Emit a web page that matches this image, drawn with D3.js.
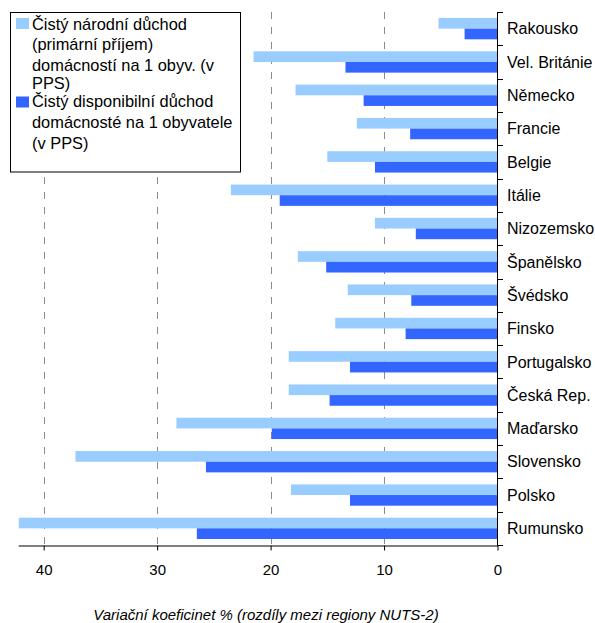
<!DOCTYPE html>
<html>
<head>
<meta charset="utf-8">
<script src="https://cdn.jsdelivr.net/npm/d3@7"></script>
<style>
  html, body { margin: 0; padding: 0; background: #fff; }
  svg { display: block; font-family: "Liberation Sans", Arial, sans-serif; }
</style>
</head>
<body>
<svg id="chart" width="595" height="623"></svg>
<script>
const categories = ["Rakousko", "Vel. Británie", "Německo", "Francie", "Belgie", "Itálie",
  "Nizozemsko", "Španělsko", "Švédsko", "Finsko", "Portugalsko", "Česká Rep.",
  "Maďarsko", "Slovensko", "Polsko", "Rumunsko"];
const seriesNames = [
  ["Čistý národní důchod", "(primární příjem)", "domácností na 1 obyv. (v", "PPS)"],
  ["Čistý disponibilní důchod", "domácnosté na 1 obyvatele", "(v PPS)"]
];
const narodni =     [5.2, 21.5, 17.8, 12.4, 15.0, 23.5, 10.8, 17.6, 13.2, 14.3, 18.4, 18.4, 28.3, 37.2, 18.2, 42.2];
const disponibilni = [2.9, 13.4, 11.8, 7.7, 10.8, 19.2, 7.2, 15.1, 7.6, 8.1, 13.0, 14.8, 19.9, 25.7, 13.0, 26.5];
const xTicks = [40, 30, 20, 10, 0];
const gridTicks = [40, 30, 20, 10];
const axisTitle = "Variační koeficinet % (rozdíly mezi regiony NUTS-2)";
const colors = ["#99CCFF", "#3366FF"];

const svg = d3.select("#chart");
const x = d3.scaleLinear().domain([0, 42.25]).range([497.5, 497.5 - 42.25 * 11.345]);
const y = d3.scaleBand().domain(categories).range([12, 545]).paddingInner(0.36).paddingOuter(0.18);
const ySub = d3.scaleBand().domain([0, 1]).range([0, y.bandwidth()]);
const step = y.step();

// gridlines
svg.append("g").selectAll("line").data(gridTicks).join("line")
  .attr("x1", d => Math.round(x(d)) + 0.5).attr("x2", d => Math.round(x(d)) + 0.5)
  .attr("y1", 12).attr("y2", 545)
  .attr("stroke", "#8c8c8c").attr("stroke-width", 1)
  .attr("stroke-dasharray", "7,8");

// bars
const rows = categories.map((c, i) => ({ c, vals: [narodni[i], disponibilni[i]] }));
const g = svg.append("g").selectAll("g").data(rows).join("g")
  .attr("transform", d => `translate(0,${y(d.c)})`);
g.selectAll("rect").data(d => d.vals.map((v, k) => ({ v, k }))).join("rect")
  .attr("x", d => x(d.v)).attr("width", d => x(0) - x(d.v))
  .attr("y", d => ySub(d.k)).attr("height", ySub.bandwidth())
  .attr("fill", d => colors[d.k]);

// bottom axis
const xAxis = d3.axisBottom(x).tickValues(xTicks).tickSize(5).tickSizeOuter(0).tickPadding(14);
const xa = svg.append("g").attr("transform", "translate(0,545.5)").call(xAxis);
xa.select(".domain").attr("stroke", "#000");
xa.selectAll(".tick line").attr("stroke", "#000");
xa.selectAll("text").attr("font-size", 15).attr("fill", "#000")
  .attr("font-family", "Liberation Sans, Arial, sans-serif");

// right axis (categories) with ticks at band boundaries
const ya = svg.append("g");
ya.append("line").attr("x1", 497.5).attr("x2", 497.5).attr("y1", 12).attr("y2", 545.5).attr("stroke", "#000");
const boundaries = d3.range(categories.length + 1).map(i => 12 + i * step);
ya.selectAll(".bt").data(boundaries).join("line").attr("class", "bt")
  .attr("x1", 497.5).attr("x2", 503)
  .attr("y1", d => Math.round(d) + 0.5).attr("y2", d => Math.round(d) + 0.5)
  .attr("stroke", "#000");
ya.selectAll("text").data(categories).join("text")
  .attr("x", 507).attr("y", d => y(d) + y.bandwidth() / 2).attr("dy", "0.36em")
  .attr("font-size", 16).attr("fill", "#000").text(d => d);

// axis title
svg.append("text").attr("x", 266).attr("y", 620).attr("text-anchor", "middle")
  .attr("font-size", 15).attr("font-style", "italic").attr("fill", "#000").text(axisTitle);

// legend
const leg = svg.append("g");
leg.append("rect").attr("x", 10.5).attr("y", 12.5).attr("width", 230).attr("height", 159.5)
  .attr("fill", "#fff").attr("stroke", "#000").attr("stroke-width", 1);
const legBase = [[29.5, 50, 70.5, 89], [107, 128, 149]];
const swatchY = [18, 96.5];
seriesNames.forEach((lines, k) => {
  leg.append("rect").attr("x", 16).attr("y", swatchY[k]).attr("width", 13).attr("height", 11)
    .attr("fill", colors[k]);
  lines.forEach((t, j) => {
    leg.append("text").attr("x", 32).attr("y", legBase[k][j]).attr("font-size", 16.4)
      .attr("fill", "#000").text(t);
  });
});
</script>
</body>
</html>
